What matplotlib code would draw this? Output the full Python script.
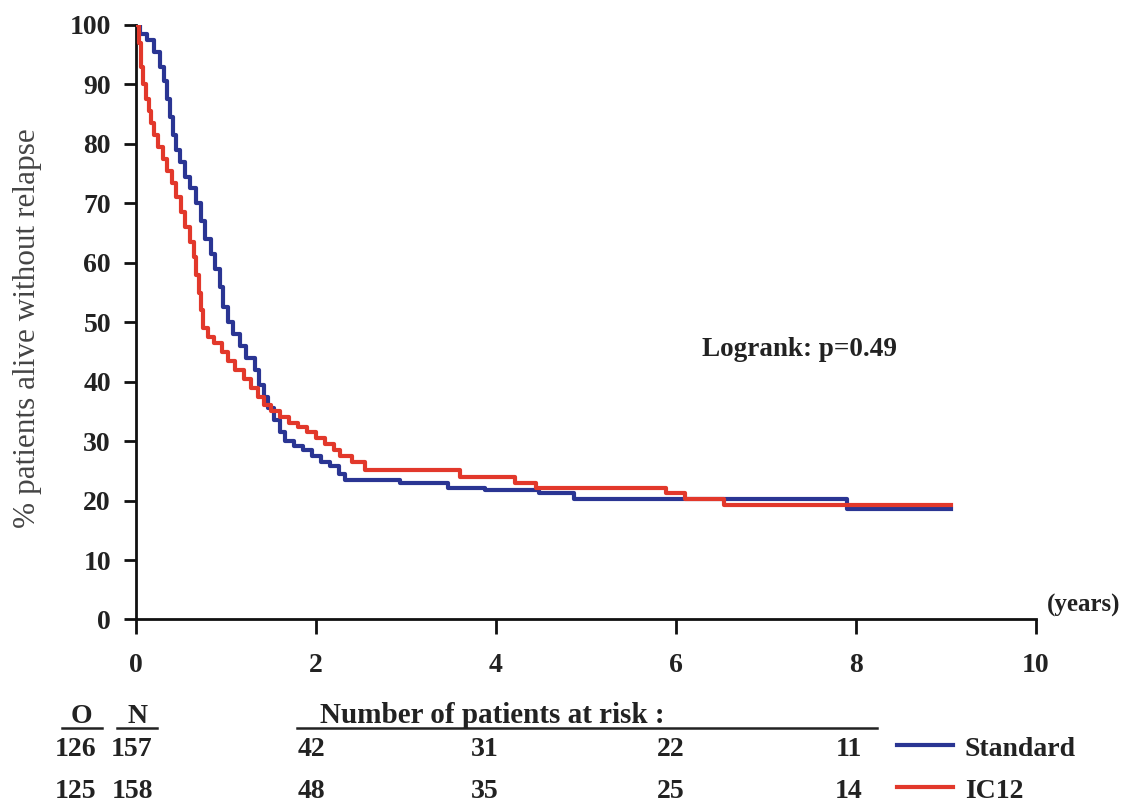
import matplotlib
matplotlib.use("Agg")
import matplotlib.pyplot as plt
from matplotlib.lines import Line2D

plt.rcParams['font.family'] = ['Liberation Serif', 'DejaVu Serif']

# Kaplan-Meier steps (years, % alive without relapse)
std_t = [0, 0.05, 0.12, 0.20, 0.27, 0.31, 0.35, 0.38, 0.41, 0.45, 0.49, 0.55,
         0.60, 0.67, 0.72, 0.77, 0.83, 0.88, 0.93, 0.97, 1.02, 1.08, 1.15, 1.22,
         1.32, 1.37, 1.42, 1.47, 1.53, 1.60, 1.66, 1.75, 1.85, 1.95, 2.05, 2.15,
         2.25, 2.32, 2.93, 3.47, 3.88, 4.48, 4.87, 7.90, 9.06]
std_s = [100, 98.5, 97.5, 95.5, 93, 90.5, 87.5, 84.5, 81.5, 79, 77, 74.5,
         72.5, 70, 67, 64, 61.5, 59, 56, 52.5, 50, 48, 46, 44,
         42, 39.5, 37.5, 35.5, 33.5, 31.5, 30, 29.2, 28.5, 27.5, 26.5, 25.8,
         24.5, 23.5, 23.0, 22.2, 21.7, 21.2, 20.3, 18.6, 18.6]

ic_t = [0, 0.03, 0.06, 0.08, 0.11, 0.14, 0.17, 0.20, 0.25, 0.30, 0.35, 0.40,
        0.45, 0.50, 0.55, 0.60, 0.64, 0.67, 0.70, 0.72, 0.75, 0.80, 0.87, 0.95,
        1.02, 1.10, 1.20, 1.28, 1.35, 1.42, 1.50, 1.60, 1.70, 1.80, 1.90, 2.00,
        2.10, 2.20, 2.27, 2.40, 2.54, 3.60, 4.21, 4.44, 5.89, 6.10, 6.53, 9.06]
ic_s = [100, 97, 93, 90, 87.5, 85.5, 83.5, 81.5, 79.5, 77.5, 75.5, 73.5,
        71, 68.5, 66, 63.5, 61, 58, 55, 52, 49, 47.5, 46.5, 45,
        43.5, 42, 40.5, 39, 37.5, 36, 35, 34, 33, 32.3, 31.5, 30.5,
        29.5, 28.5, 27.5, 26.5, 25.2, 24.0, 23.0, 22.2, 21.3, 20.3, 19.3, 19.3]

groups = ["Standard", "IC12"]
observed = [126, 125]
numbers = [157, 158]
risk_times = [2, 4, 6, 8]
at_risk = [[42, 31, 22, 11], [48, 35, 25, 14]]
colors = ["#2a3593", "#e2382b"]

fig = plt.figure(figsize=(11.39, 8.06), dpi=100)
ax = fig.add_axes([0.1194, 0.2314, 0.7902, 0.7376])

ax.step(std_t, std_s, where="post", color=colors[0], lw=3, zorder=3)
ax.step(ic_t, ic_s, where="post", color=colors[1], lw=3, zorder=4)

ax.set_xlim(0, 10)
ax.set_ylim(0, 100)
ax.set_xticks(range(0, 11, 2))
ax.set_yticks(range(0, 101, 10))
for s in ["top", "right"]:
    ax.spines[s].set_visible(False)
for s in ["left", "bottom"]:
    ax.spines[s].set_linewidth(2)
    ax.spines[s].set_color("#111111")
ax.tick_params(axis="y", direction="out", length=9, width=2, pad=9,
               labelsize=20, colors="#111111")
ax.tick_params(axis="x", direction="out", length=11, width=2, pad=13,
               labelsize=20, colors="#111111")
for lab in ax.get_xticklabels() + ax.get_yticklabels():
    lab.set_fontweight("bold")
    lab.set_color("#222222")

ax.set_ylabel("% patients alive without relapse", fontsize=22.5, color="#444444")
ax.yaxis.set_label_coords(-0.104, 0.49)

ax.text(10.12, 0.4, "(years)", fontsize=18, fontweight="bold", color="#222222",
        ha="left", va="bottom")
ax.text(7.37, 45.4, "Logrank: p=0.49", fontsize=19.5, fontweight="bold",
        color="#222222", ha="center", va="center")

# table below the axes (figure coordinates)
W, H = 1139.0, 806.0
def fx(px):
    return px / W
def fy(py):
    return 1 - py / H

tc = "#222222"
fs = 20
fig.text(fx(81), fy(723), "O", fontsize=fs, fontweight="bold", color=tc, ha="center", va="baseline")
fig.text(fx(137), fy(723), "N", fontsize=fs, fontweight="bold", color=tc, ha="center", va="baseline")
fig.add_artist(Line2D([fx(62), fx(102)], [fy(728), fy(728)], color=tc, lw=1.8))
fig.add_artist(Line2D([fx(117), fx(157)], [fy(728), fy(728)], color=tc, lw=1.8))
fig.text(fx(320), fy(723), "Number of patients at risk :", fontsize=21,
         fontweight="bold", color=tc, ha="left", va="baseline")
fig.add_artist(Line2D([fx(297), fx(877)], [fy(728), fy(728)], color=tc, lw=1.8))

row_y = [749, 791]
risk_px = [311, 485, 671, 849]
for i in range(2):
    fig.text(fx(76), fy(row_y[i]), str(observed[i]), fontsize=fs, fontweight="bold",
             color=tc, ha="center", va="center")
    fig.text(fx(132), fy(row_y[i]), str(numbers[i]), fontsize=fs, fontweight="bold",
             color=tc, ha="center", va="center")
    for j in range(len(risk_times)):
        fig.text(fx(risk_px[j]), fy(row_y[i]), str(at_risk[i][j]), fontsize=fs,
                 fontweight="bold", color=tc, ha="center", va="center")
    fig.add_artist(Line2D([fx(897), fx(953)], [fy(row_y[i] - 4), fy(row_y[i] - 4)],
                          color=colors[i], lw=3))
    fig.text(fx(965), fy(row_y[i]), groups[i], fontsize=fs, fontweight="bold",
             color=tc, ha="left", va="center")

fig.savefig("out.png", dpi=100, facecolor="white")
